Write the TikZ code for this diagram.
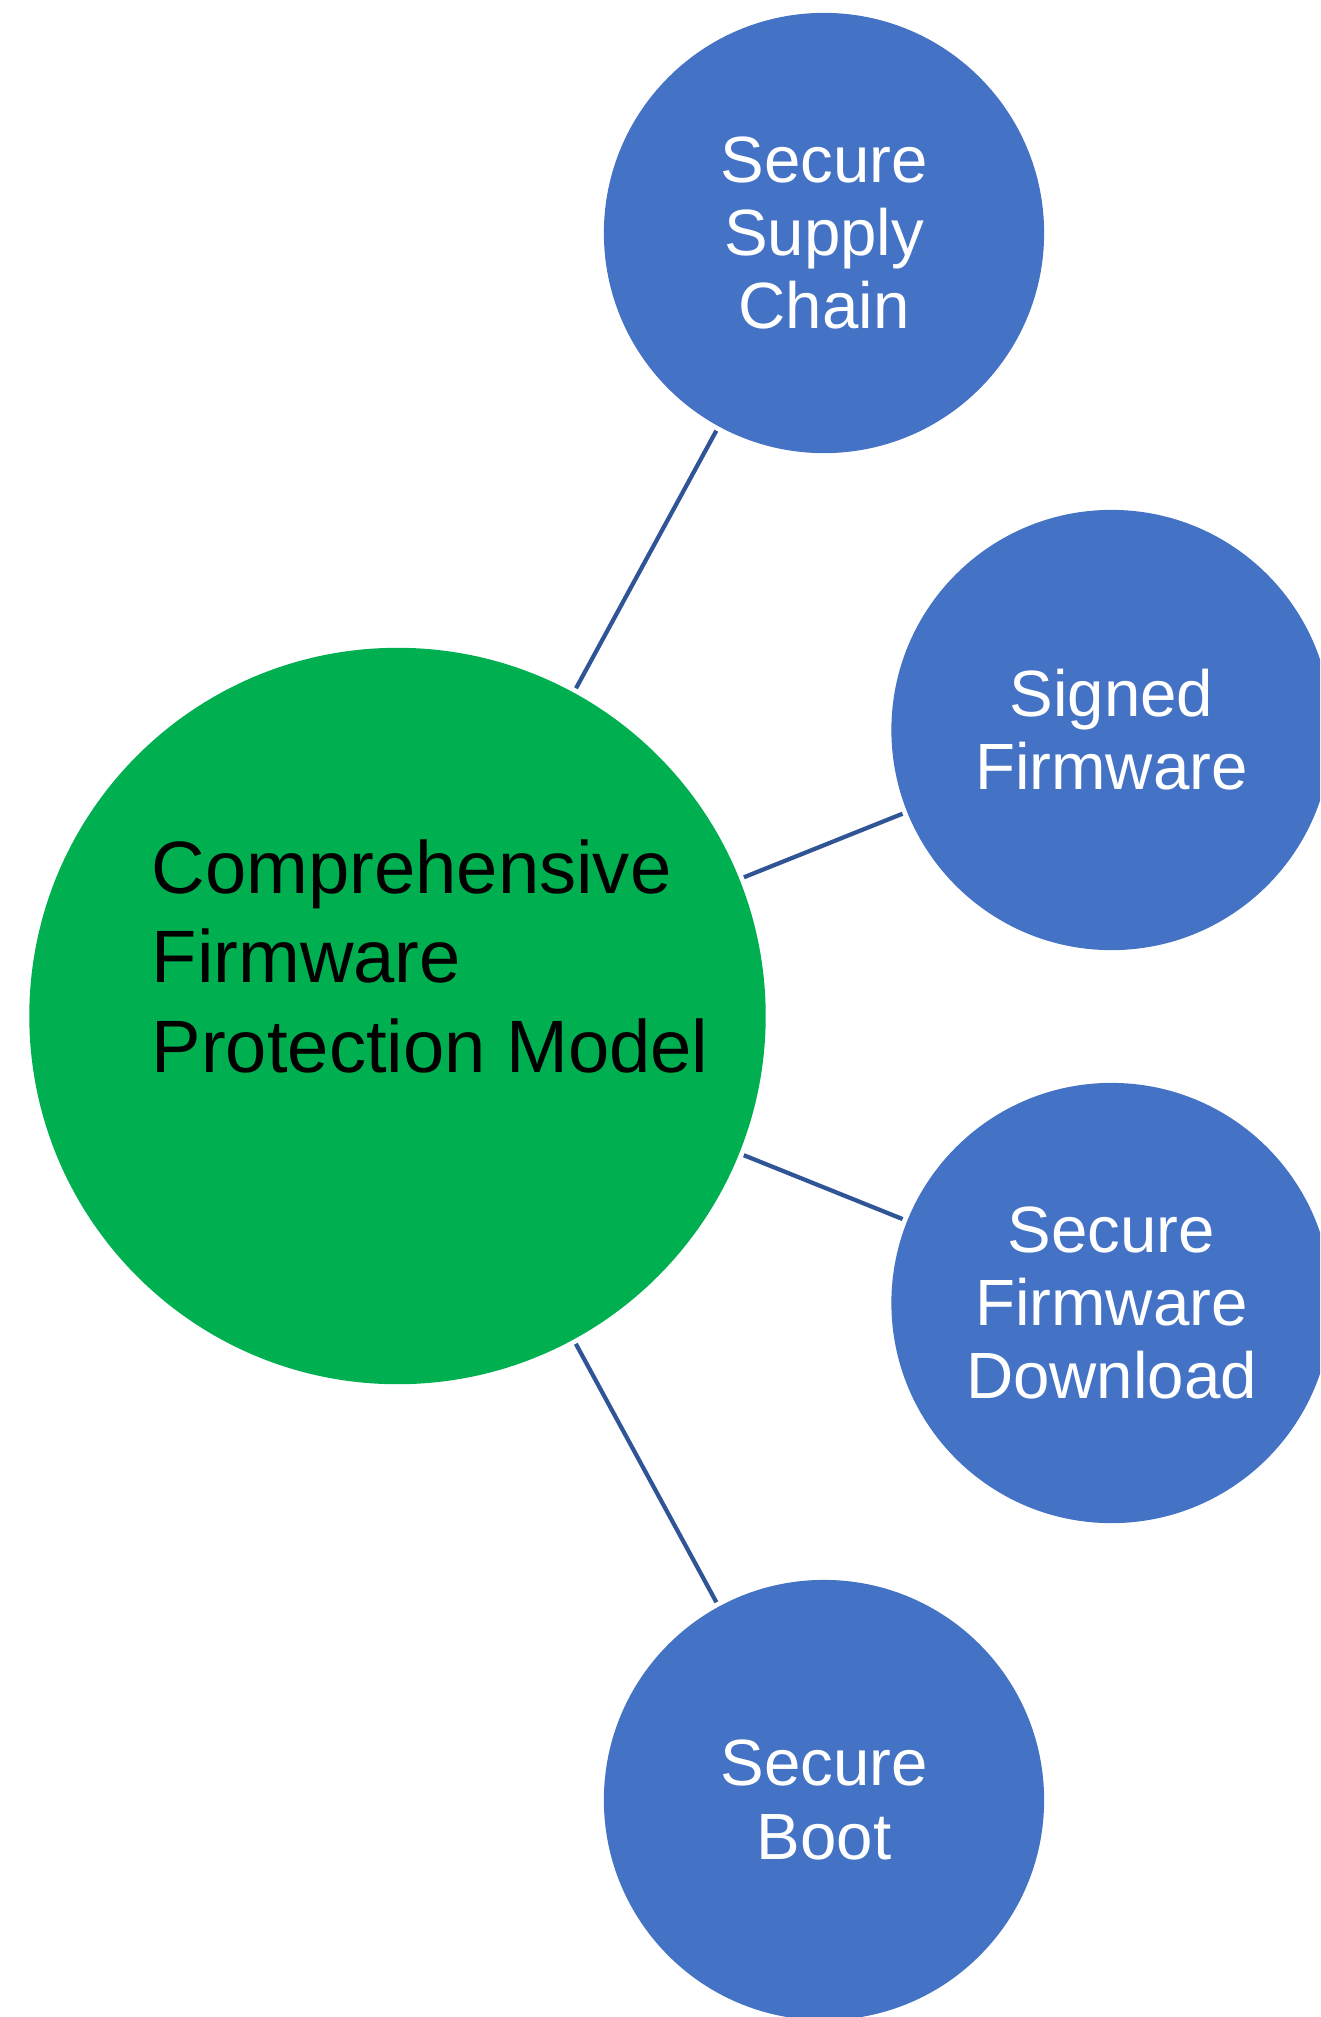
\documentclass[tikz,border=0pt]{standalone}
\usepackage{fontspec}
\setmainfont{Liberation Sans}
\definecolor{hubgreen}{HTML}{00B050}
\definecolor{spokeblue}{HTML}{4472C4}
\definecolor{linkblue}{HTML}{2F5597}
\begin{document}
\begin{tikzpicture}[x=0.01cm, y=0.01cm,
    hub/.style={circle, fill=hubgreen, minimum size=7.36cm, inner sep=0pt, outer sep=0pt},
    spoke/.style={circle, fill=spokeblue, minimum size=4.4cm, inner sep=0pt, outer sep=0pt,
        text=white, align=center, font=\fontsize{18.6}{20.8}\selectfont},
    link/.style={draw=linkblue, line width=1.2pt, shorten <=0.05cm, shorten >=0.05cm}]
    \useasboundingbox (0,0) rectangle (1320,-2017);
    \clip (0,0) rectangle (1320,-2017);

    % central circle with its text set to the left
    \node[hub] (model) at (397.5,-1016) {};
    \node[anchor=base west, align=left, inner sep=0pt,
        font=\fontsize{21.1}{25.4}\selectfont] (modeltext) at (151,-1072)
        {Comprehensive\\Firmware\\Protection Model};

    % the four outer circles
    \node[spoke] (supply) at (824,-233) {Secure\\Supply\\Chain};
    \node[spoke] (signed) at (1111.5,-730) {Signed\\Firmware};
    \node[spoke] (download) at (1111.5,-1303) {Secure\\Firmware\\Download};
    \node[spoke] (boot) at (824,-1800) {Secure\\Boot};

    % connectors
    \foreach \n in {supply, signed, download, boot}
        \draw[link] (model) -- (\n);
\end{tikzpicture}
\end{document}
